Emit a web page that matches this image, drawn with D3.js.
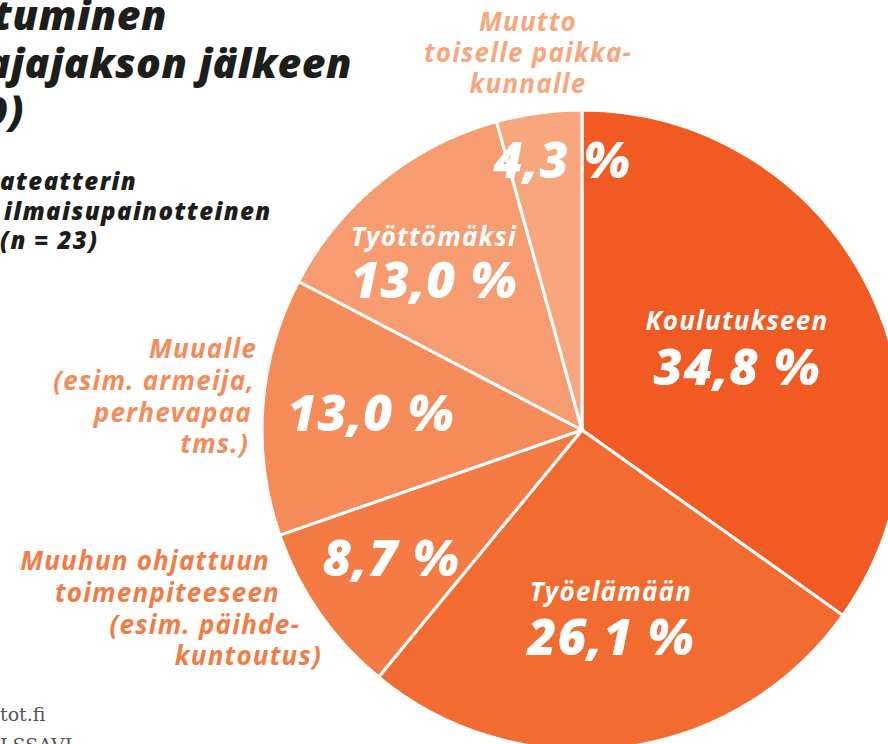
<!DOCTYPE html>
<html><head><meta charset="utf-8">
<script src="https://cdn.jsdelivr.net/npm/d3@7"></script>
<style>
html,body{margin:0;padding:0;background:#fff;overflow:hidden}
svg{display:block}
text.it{font-family:"Open Sans","Lato",sans-serif;font-style:italic}
text.src{font-family:"DejaVu Serif",serif;font-style:normal}
</style></head>
<body>
<script>
// ---- data ----
const categories = ["Koulutukseen","Työelämään","Muuhun ohjattuun toimenpiteeseen","Muualle","Työttömäksi","Muutto toiselle paikkakunnalle"];
const values = [34.8, 26.1, 8.7, 13.0, 13.0, 4.3];
const colors = ["#F15A22","#F26B31","#F47B43","#F68B5A","#F69C70","#F7A67E"];
const titleLines = ["tuminen","ajajakson jälkeen","9)"];
const subtitleLines = ["ateatterin","ilmaisupainotteinen","(n = 23)"];
const sourceLines = ["tot.fi","LSSAVI"];

const W = 888, H = 744;
const svg = d3.select("body").append("svg").attr("width", W).attr("height", H);

const cx = 582, cy = 430, R = 320;
const pie = d3.pie().sort(null).value(d => d);
const arcs = pie(values);
const arc = d3.arc().innerRadius(0).outerRadius(R);

const g = svg.append("g").attr("transform", `translate(${cx},${cy})`);
g.selectAll("path").data(arcs).enter().append("path")
  .attr("d", arc)
  .attr("fill", (d,i) => colors[i])
  .attr("stroke", "#fff").attr("stroke-width", 3).attr("stroke-linejoin","round");

const num = v => d3.format(".1f")(v).replace(".", ",");

// inside labels
const inside = [
  {i:0, name:"Koulutukseen", x:737, yn:330, yp:385},
  {i:1, name:"Työelämään", x:611, yn:601, yp:655},
  {i:4, name:"Työttömäksi", x:434, yn:246, yp:298},
  {i:3, name:null, x:371, yp:431},
  {i:2, name:null, x:391, yp:576},
  {i:5, name:null, x:562, yp:178}
];
inside.forEach(l => {
  if (l.name) {
    svg.append("text").attr("class","it").attr("x", l.x).attr("y", l.yn)
      .attr("text-anchor","middle").attr("fill","#fff")
      .attr("font-size", 26).attr("font-weight", 700).attr("letter-spacing", 1.2).text(l.name);
  }
  const t = svg.append("text").attr("class","it").attr("x", l.x).attr("y", l.yp)
    .attr("text-anchor","middle").attr("fill","#fff")
    .attr("font-size", 50).attr("font-weight", 800)
    .attr("letter-spacing", 0.8);
  t.append("tspan").text(num(values[l.i]));
  t.append("tspan").attr("dx", 14).text("%");
});

// outside labels
const outside = [
  {i:5, anchor:"middle", lines:[["Muutto",528,31],["toiselle paikka-",528,62],["kunnalle",528,93]]},
  {i:3, anchor:"end", lines:[["Muualle",257,358],["(esim. armeija,",255,390],["perhevapaa",252,422],["tms.)",249,453]]},
  {i:2, anchor:"end", lines:[["Muuhun ohjattuun",270,570],["toimenpiteeseen",280,602],["(esim. päihde-",300,634],["kuntoutus)",322,665]]}
];
outside.forEach(o => {
  o.lines.forEach(([t,x,y]) => {
    svg.append("text").attr("class","it").attr("x", x).attr("y", y)
      .attr("text-anchor", o.anchor).attr("fill", colors[o.i])
      .attr("font-size", 26).attr("font-weight", 700).attr("letter-spacing", 1.2).text(t);
  });
});

// title (cropped at the left edge in the reference)
const titleEnds = [167, 352, 24];
const titleY = [30, 78, 126];
titleLines.forEach((t,k) => {
  svg.append("text").attr("class","it").attr("x", titleEnds[k]).attr("y", titleY[k])
    .attr("text-anchor","end").attr("fill","#1d1d1b")
    .attr("font-size", 41).attr("font-weight", 800).attr("letter-spacing", 0.5).text(t);
});
// subtitle
const subX = [0, 4, 0], subY = [190, 220, 249];
subtitleLines.forEach((t,k) => {
  svg.append("text").attr("class","it").attr("x", subX[k]).attr("y", subY[k])
    .attr("fill","#1d1d1b").attr("font-size", 24).attr("font-weight", 800)
    .attr("letter-spacing", 1.4).text(t);
});
// source
const srcY = [721, 752];
sourceLines.forEach((t,k) => {
  svg.append("text").attr("class","src").attr("x", 0).attr("y", srcY[k])
    .attr("fill","#555").attr("font-size", 19).text(t);
});
</script>
</body></html>
